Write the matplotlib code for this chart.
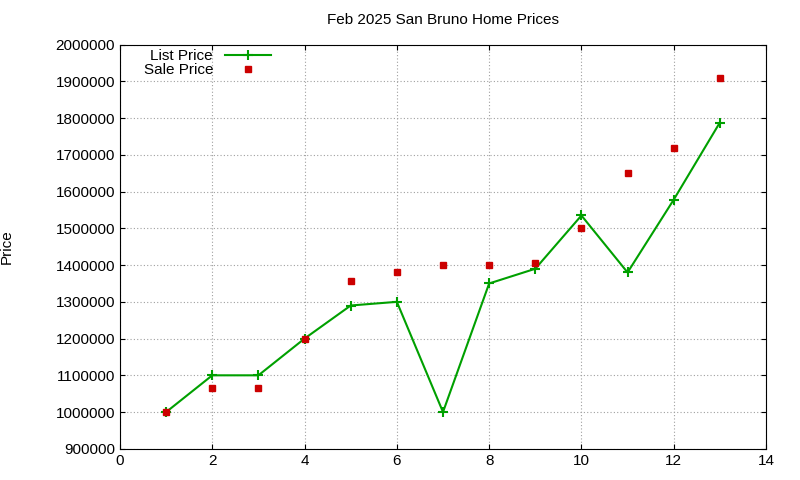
import matplotlib
matplotlib.use("Agg")
import matplotlib.pyplot as plt

x = list(range(1, 14))
list_price = [1000000, 1100000, 1100000, 1200000, 1290000, 1300000, 1000000,
              1350000, 1390000, 1535000, 1380000, 1578000, 1788000]
sale_price = [1000000, 1065000, 1065000, 1200000, 1358000, 1380000, 1400000,
              1400000, 1405000, 1500000, 1650000, 1720000, 1910000]

plt.rcParams['font.family'] = ['Liberation Sans', 'DejaVu Sans']
fig = plt.figure(figsize=(8, 4.8), dpi=100)
ax = fig.add_axes([0.15, 0.065, 0.8075, 0.842])
ax.plot(x, list_price, color='#00a000', marker='+', markersize=7, mew=1.5, lw=1.5, label='List Price')
ax.plot(x, sale_price, color='#cc0000', marker='s', markersize=5, ls='none', label='Sale Price')
ax.set_xlim(0, 14)
ax.set_ylim(900000, 2000000)
ax.set_xticks(range(0, 15, 2))
ax.set_yticks(range(900000, 2000001, 100000))
ax.ticklabel_format(style='plain', axis='y')
ax.grid(True, color='#a0a0a0', ls=(0, (1, 2)), lw=0.8)
ax.tick_params(direction='in', labelsize=11, top=True, right=True)
ax.set_title('Feb 2025 San Bruno Home Prices', fontsize=11, pad=15)
ax.set_ylabel('Price', fontsize=11, labelpad=30)
ax.legend(loc='upper left', bbox_to_anchor=(0.02, 1.015), frameon=False, markerfirst=False,
          fontsize=11, handlelength=3, borderpad=0.2, labelspacing=0.0)
fig.savefig('out.png')
